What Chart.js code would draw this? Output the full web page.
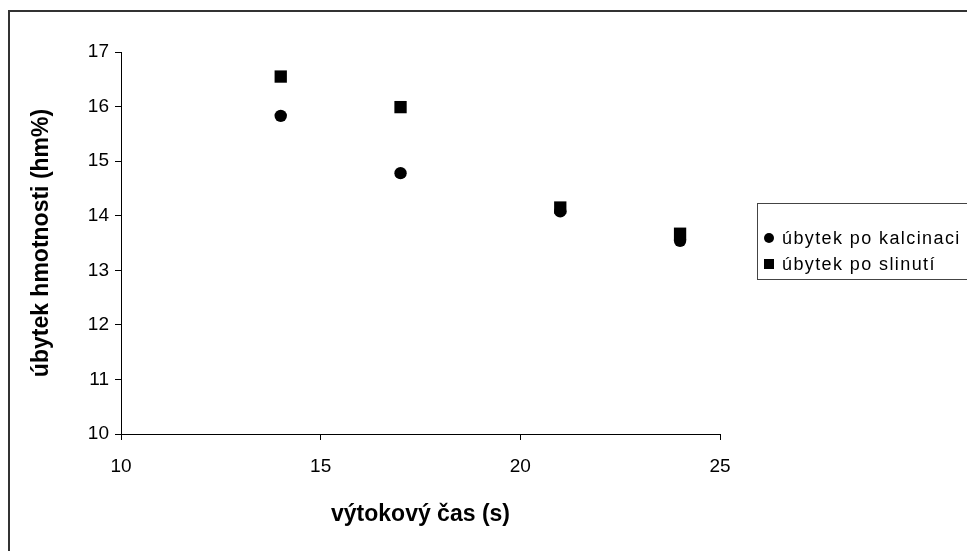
<!DOCTYPE html>
<html>
<head>
<meta charset="utf-8">
<script src="https://cdn.jsdelivr.net/npm/chart.js@4.4.1/dist/chart.umd.min.js"></script>
<style>
  html, body { margin: 0; padding: 0; background: #fff; }
  #wrap { position: relative; width: 967px; height: 551px; }
</style>
</head>
<body>
<div id="wrap"><canvas id="chart" width="967" height="551"></canvas></div>
<script>
// values
const casX = [14, 17, 21, 24];
const kalcinace = [15.83, 14.78, 14.08, 13.54];
const slinuti = [16.55, 15.99, 14.15, 13.67];
const seriesNames = ['úbytek po kalcinaci', 'úbytek po slinutí'];
const xTitle = 'výtokový čas (s)';
const yTitle = 'úbytek hmotnosti (hm%)';

const FONT = '"Liberation Sans", Arial, sans-serif';

function toPoints(xs, ys) {
    return xs.map((x, i) => ({ x: x, y: ys[i] }));
}

// outer frame + legend box drawn by hand (legend sits partly off-canvas like the original)
const frameAndLegend = {
    id: 'frameAndLegend',
    afterDraw(chart) {
        const ctx = chart.ctx;
        ctx.save();
        ctx.strokeStyle = '#333';
        ctx.lineWidth = 2;
        ctx.beginPath();
        ctx.moveTo(9, 560);
        ctx.lineTo(9, 11);
        ctx.lineTo(980, 11);
        ctx.stroke();

        // legend box
        ctx.strokeStyle = '#444';
        ctx.lineWidth = 1;
        ctx.strokeRect(757.5, 203.5, 230, 76);
        const rows = [238, 264];
        ctx.font = '18px ' + FONT;
        ctx.letterSpacing = '1.4px';
        ctx.textBaseline = 'middle';
        ctx.fillStyle = '#000';
        chart.data.datasets.forEach((ds, i) => {
            const y = rows[i];
            ctx.beginPath();
            if (ds.pointStyle === 'rect') {
                ctx.rect(764, y - 5, 10, 10);
            } else {
                ctx.arc(769, y, 5, 0, Math.PI * 2);
            }
            ctx.fill();
            ctx.fillText(ds.label, 782, y + 1);
        });
        ctx.restore();
    }
};

new Chart(document.getElementById('chart'), {
    type: 'scatter',
    data: {
        datasets: [
            {
                label: seriesNames[0],
                data: toPoints(casX, kalcinace),
                pointStyle: 'circle',
                pointRadius: 6.2,
                pointHoverRadius: 6.2,
                backgroundColor: '#000',
                borderColor: '#000',
                borderWidth: 0
            },
            {
                label: seriesNames[1],
                data: toPoints(casX, slinuti),
                pointStyle: 'rect',
                pointRadius: 8.7,
                pointHoverRadius: 8.7,
                backgroundColor: '#000',
                borderColor: '#000',
                borderWidth: 0
            }
        ]
    },
    options: {
        responsive: false,
        animation: false,
        layout: { padding: { left: 0, top: 52, right: 247, bottom: 0 } },
        plugins: {
            legend: { display: false },
            tooltip: { enabled: false }
        },
        scales: {
            x: {
                type: 'linear',
                min: 10,
                max: 25,
                afterFit(scale) { scale.height = 117; },
                ticks: {
                    stepSize: 5,
                    color: '#000',
                    padding: 15,
                    font: { family: FONT, size: 19 }
                },
                grid: {
                    drawOnChartArea: false,
                    drawTicks: true,
                    tickLength: 6,
                    color: '#000'
                },
                border: { display: true, color: '#000', width: 1 },
                title: {
                    display: true,
                    text: xTitle,
                    color: '#000',
                    font: { family: FONT, size: 23, weight: 'bold' },
                    padding: { top: 0, bottom: 23 }
                }
            },
            y: {
                type: 'linear',
                min: 10,
                max: 17,
                afterFit(scale) { scale.width = 121; },
                ticks: {
                    stepSize: 1,
                    color: '#000',
                    padding: 6,
                    font: { family: FONT, size: 19 }
                },
                grid: {
                    drawOnChartArea: false,
                    drawTicks: true,
                    tickLength: 6,
                    color: '#000'
                },
                border: { display: true, color: '#000', width: 1 },
                title: {
                    display: true,
                    text: yTitle,
                    color: '#000',
                    font: { family: FONT, size: 23, weight: 'bold' },
                    padding: { top: 28, bottom: 0 }
                }
            }
        }
    },
    plugins: [frameAndLegend]
});
</script>
</body>
</html>
